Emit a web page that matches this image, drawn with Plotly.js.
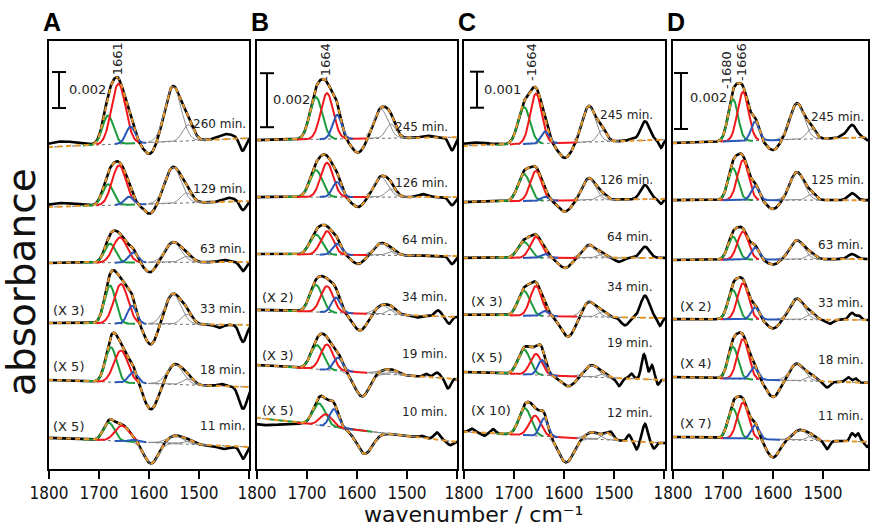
<!DOCTYPE html>
<html><head><meta charset="utf-8">
<script src="https://cdn.plot.ly/plotly-3.0.1.min.js"></script>
<style>html,body{margin:0;padding:0;background:#fff}#chart{width:871px;height:530px}</style>
</head><body><div id="chart"></div><script>
// ---------------- DATA (absorbance in units of 10^-3, as displayed) ----------------
const panelNames = ['A', 'B', 'C', 'D'];
const timeLabels = [
  ['260 min.', '129 min.', '63 min.', '33 min.', '18 min.', '11 min.'],
  ['245 min.', '126 min.', '64 min.', '34 min.', '19 min.', '10 min.'],
  ['245 min.', '126 min.', '64 min.', '34 min.', '19 min.', '12 min.'],
  ['245 min.', '125 min.', '63 min.', '33 min.', '18 min.', '11 min.']
];
const multLabels = [
  ['', '', '', '(X 3)', '(X 5)', '(X 5)'],
  ['', '', '', '(X 2)', '(X 3)', '(X 5)'],
  ['', '', '', '(X 3)', '(X 5)', '(X 10)'],
  ['', '', '', '(X 2)', '(X 4)', '(X 7)']
];
const scaleBarLabel = ['0.002', '0.002', '0.001', '0.002'];
const scaleBarSize = [2, 2, 1, 2];
const peakMarks = [[1661], [1664], [1664], [1680, 1666]];
// baseline level at 1800 and at 1400 cm-1
const base1800 = [
  [17.94, 14.61, 11.50, 8.17, 5.00, 1.78],
  [12.22, 10.11, 8.00, 5.93, 3.89, 1.93],
  [9.00, 7.44, 5.89, 4.31, 2.72, 1.06],
  [11.68, 9.64, 7.50, 5.39, 3.32, 1.18]
];
const base1400 = [
  [18.44, 14.94, 11.56, 8.06, 4.61, 1.28],
  [12.33, 10.11, 7.93, 5.67, 3.37, 1.04],
  [9.17, 7.53, 5.89, 4.22, 2.50, 0.75],
  [11.89, 9.64, 7.54, 5.36, 3.11, 1.00]
];
// band centres (cm-1) and heights
const greenCenter = [
  [1682, 1682, 1678, 1678, 1676, 1680],
  [1682, 1682, 1682, 1682, 1680, 1676],
  [1680, 1680, 1680, 1680, 1680, 1678],
  [1680, 1680, 1680, 1680, 1680, 1680]
];
const greenHeight = [
  [1.61, 1.17, 1.06, 2.11, 1.94, 1.00],
  [1.56, 1.00, 0.74, 1.00, 0.89, 0.81],
  [1.03, 0.75, 0.44, 0.69, 0.69, 0.75],
  [1.50, 1.14, 0.82, 1.04, 1.14, 1.07]
];
const redCenter = [
  [1661, 1660, 1658, 1656, 1656, 1654],
  [1660, 1660, 1660, 1660, 1660, 1662],
  [1656, 1656, 1656, 1656, 1656, 1658],
  [1660, 1660, 1660, 1660, 1660, 1660]
];
const redHeight = [
  [3.35, 2.20, 1.40, 2.20, 1.78, 0.87],
  [1.70, 1.27, 0.87, 0.97, 0.94, 0.44],
  [1.39, 0.83, 0.58, 0.83, 0.58, 0.56],
  [1.75, 1.43, 1.00, 1.29, 1.43, 1.29]
];
const blueCenter = [
  [1637, 1640, 1632, 1634, 1632, 1632],
  [1640, 1640, 1640, 1642, 1638, 1646],
  [1638, 1638, 1638, 1638, 1644, 1640],
  [1636, 1636, 1636, 1636, 1638, 1636]
];
const blueHeight = [
  [0.94, 0.44, 0.56, 1.00, 0.61, 0.11],
  [0.89, 0.56, 0.41, 0.56, 0.48, 0.67],
  [0.33, 0.11, 0.11, 0.14, 0.42, 0.50],
  [0.68, 0.50, 0.43, 0.43, 0.43, 0.50]
];
const dipCenter = [
  [1598, 1598, 1598, 1596, 1596, 1596],
  [1598, 1598, 1598, 1594, 1590, 1585],
  [1598, 1598, 1598, 1592, 1592, 1596],
  [1600, 1600, 1600, 1600, 1600, 1600]
];
const dipHeight = [
  [-0.67, -0.56, -0.56, -1.17, -1.44, -1.17],
  [-0.52, -0.37, -0.33, -0.63, -0.89, -0.85],
  [-0.42, -0.31, -0.28, -0.56, -0.28, -0.69],
  [-0.36, -0.32, -0.18, -0.32, -0.61, -0.64]
];
const dipWidth = [
  [12, 12, 12, 13, 14, 14],
  [13, 13, 13, 14, 15, 16],
  [13, 13, 13, 14, 14, 15],
  [12, 12, 12, 12, 13, 13]
];
const band1Center = [
  [1552, 1552, 1552, 1552, 1548, 1548],
  [1552, 1552, 1552, 1550, 1545, 1545],
  [1550, 1550, 1550, 1550, 1545, 1544],
  [1552, 1552, 1552, 1552, 1552, 1546]
];
const band1Height = [
  [3.06, 2.00, 1.11, 1.67, 1.11, 0.44],
  [1.07, 0.74, 0.44, 0.33, 0.15, 0.00],
  [1.00, 0.61, 0.36, 0.42, 0.33, 0.19],
  [1.29, 1.00, 0.68, 0.75, 0.61, 0.36]
];
const band2Center = [
  [1522, 1525, 1525, 1525, 1522, 1522],
  [1532, 1532, 1530, 1530, 1525, 1525],
  [1524, 1524, 1524, 1524, 1522, 1514],
  [1524, 1524, 1524, 1524, 1524, 1524]
];
const band2Height = [
  [0.89, 0.56, 0.33, 0.56, 0.33, 0.17],
  [0.52, 0.30, 0.15, 0.19, 0.11, 0.00],
  [0.31, 0.14, 0.11, 0.14, 0.11, 0.19],
  [0.36, 0.21, 0.18, 0.21, 0.18, 0.14]
];
// band widths per panel: green, red, blue, band1, band2 (sigma, cm-1)
const bandWidth = [
  [11, 14, 9, 16, 11],
  [12.5, 12.5, 9, 14, 10],
  [12, 11.5, 8, 13, 9],
  [10, 11, 8, 14, 9]
];
// whether the negative component is drawn (grey)
const dipShown = [
  [0, 0, 0, 0, 0, 1],
  [0, 0, 0, 0, 1, 1],
  [0, 0, 0, 0, 0, 1],
  [0, 0, 0, 0, 0, 0]
];
// residual structure of the measured spectrum outside the fitted bands: [centre, height, width]
const residual = [
  [[[1775, 0.28, 30], [1445, 0.28, 15], [1413, -0.72, 6]],
   [[1775, 0.20, 30], [1440, 0.22, 12], [1412, -0.50, 6]],
   [[1450, 0.11, 10], [1412, -0.50, 6]],
   [[1460, -0.17, 8], [1412, -0.94, 7]],
   [[1455, 0.11, 8], [1412, -1.22, 8]],
   [[1450, -0.17, 12], [1412, -0.67, 6]]],
  [[[1460, 0.07, 10], [1410, -0.48, 6]],
   [[1468, 0.11, 10], [1410, -0.30, 6]],
   [[1410, -0.30, 6]],
   [[1480, -0.07, 6], [1438, 0.22, 6], [1416, -0.26, 5]],
   [[1462, 0.11, 5], [1440, 0.19, 6], [1418, -0.37, 5]],
   [[1795, -0.24, 40], [1470, 0.07, 5], [1440, 0.26, 6], [1414, -0.15, 5]]],
  [[[1780, 0.08, 30], [1465, 0.06, 6], [1438, 0.53, 9], [1406, -0.22, 4]],
   [[1438, 0.39, 9], [1406, -0.14, 4]],
   [[1490, -0.11, 8], [1438, 0.31, 9]],
   [[1478, -0.22, 8], [1438, 0.61, 9], [1408, -0.22, 4]],
   [[1490, -0.22, 5], [1465, 0.14, 4], [1440, 0.69, 5], [1424, 0.39, 4], [1412, -0.14, 3]],
   [[1785, 0.10, 5], [1760, -0.08, 5], [1742, 0.12, 5], [1505, 0.10, 4], [1470, 0.17, 4], [1455, -0.22, 4], [1438, 0.50, 5], [1420, -0.17, 4]]],
  [[[1462, 0.07, 6], [1442, 0.46, 9], [1412, -0.11, 4]],
   [[1442, 0.25, 8]],
   [[1442, 0.18, 8]],
   [[1486, -0.14, 6], [1442, 0.25, 6], [1428, 0.14, 4]],
   [[1492, -0.21, 6], [1450, 0.18, 5], [1435, 0.14, 4]],
   [[1492, -0.29, 5], [1442, 0.29, 4], [1430, 0.29, 4], [1412, -0.18, 4]]]
];
const tickVals = [1800, 1700, 1600, 1500];
const tickText = ['1800', '1700', '1600', '1500'];
const minorTickVals = [1400];

// ---------------- LAYOUT / STYLE ----------------
const W = 871, H = 530;
const boxPx = [[48, 250], [256, 458], [463, 666], [672, 869]];
const xRanges = [[1802, 1398], [1802, 1398], [1802, 1396], [1802, 1408]];
const yTop = [23.89, 15.93, 11.94, 15.36];
const boxTop = 40, boxBot = 470;
const drawRanges = [ // [hi, lo] for green, red, blue, grey
  [[1732, 1628], [1705, 1620], [1668, 1606], [1602, 1474]],
  [[1740, 1640], [1720, 1580], [1675, 1608], [1582, 1484]],
  [[1735, 1642], [1708, 1574], [1682, 1612], [1580, 1490]],
  [[1708, 1640], [1705, 1628], [1700, 1586], [1594, 1505]]
];
const timePos = [[248, [124, 189, 249, 309, 370, 426]], [450, [127, 183, 240, 297, 354, 412]],
                 [655, [115, 180, 237, 287, 343, 413]], [866, [117, 180, 245, 303, 360, 416]]];
const multPos = [[51, [0, 0, 0, 310, 366, 426]], [260, [0, 0, 0, 297, 355, 410]],
                 [469, [0, 0, 0, 301, 357, 410]], [678, [0, 0, 0, 306, 363, 423]]];
const barPos = [[1780, 20.11, 67, 90], [1780, 12.70, 271, 100], [1774, 10.06, 482, 90], [1784, 12.18, 688, 98]];
const markPos = [[[118, 61]], [[326, 62]], [[532, 62]], [[727, 70], [742, 62]]];

const COL = {g: '#1c9b3c', r: '#f2171b', b: '#2a58b8', grey: '#8c8c8c', orange: '#e8982a'};
const TXT = 'DejaVu Sans, Verdana, sans-serif';

function gauss(w, c, h, s) { return h * Math.exp(-(w - c) * (w - c) / (2 * s * s)); }

const traces = [], shapes = [], annotations = [];
const layout = {
  width: W, height: H, margin: {l: 0, r: 0, t: 0, b: 0},
  paper_bgcolor: '#fff', plot_bgcolor: 'rgba(0,0,0,0)', showlegend: false
};

for (let p = 0; p < 4; p++) {
  const xa = p === 0 ? 'x' : 'x' + (p + 1), ya = p === 0 ? 'y' : 'y' + (p + 1);
  const xKey = p === 0 ? 'xaxis' : 'xaxis' + (p + 1), yKey = p === 0 ? 'yaxis' : 'yaxis' + (p + 1);
  layout[xKey] = {
    domain: [boxPx[p][0] / W, boxPx[p][1] / W], range: xRanges[p], anchor: ya,
    showgrid: false, zeroline: false, showline: false,
    tickmode: 'array', tickvals: tickVals, ticktext: tickText, ticks: 'outside', ticklen: 8, tickwidth: 1.5, tickcolor: '#000',
    minor: {tickmode: 'array', tickvals: minorTickVals, ticks: 'outside', ticklen: 8, tickwidth: 1.5, tickcolor: '#000', showgrid: false},
    tickfont: {family: 'Liberation Sans Narrow, DejaVu Sans Condensed, Arial Narrow, sans-serif', size: 17, color: '#111'},
    fixedrange: true
  };
  layout[yKey] = {
    domain: [1 - boxBot / H, 1 - boxTop / H], range: [0, yTop[p]], anchor: xa,
    visible: false, fixedrange: true
  };
  shapes.push({type: 'rect', xref: 'paper', yref: 'paper', x0: boxPx[p][0] / W, x1: boxPx[p][1] / W,
    y0: 1 - boxBot / H, y1: 1 - boxTop / H, line: {color: '#000', width: 2}});

  const sig = bandWidth[p];
  for (let i = 0; i < 6; i++) {
    const b0 = base1800[p][i], b1 = base1400[p][i];
    const base = w => b0 + (b1 - b0) * (1800 - w) / 400;
    const bands = [
      [greenCenter[p][i], greenHeight[p][i], sig[0]],
      [redCenter[p][i], redHeight[p][i], sig[1]],
      [blueCenter[p][i], blueHeight[p][i], sig[2]],
      [dipCenter[p][i], dipHeight[p][i], dipWidth[p][i]],
      [band1Center[p][i], band1Height[p][i], sig[3]],
      [band2Center[p][i], band2Height[p][i], sig[4]]
    ];
    const xs = [], fit = [], meas = [], bl = [];
    for (let w = xRanges[p][0]; w >= xRanges[p][1]; w -= 1) {
      let f = base(w);
      bands.forEach(b => { f += gauss(w, b[0], b[1], b[2]); });
      let m = f;
      residual[p][i].forEach(r => { m += gauss(w, r[0], r[1], r[2]); });
      xs.push(w); fit.push(f); meas.push(m); bl.push(base(w));
    }
    const comp = (k, hi, lo) => {
      const cx = [], cy = [];
      for (let w = hi; w >= lo; w -= 1) { cx.push(w); cy.push(base(w) + gauss(w, bands[k][0], bands[k][1], bands[k][2])); }
      return [cx, cy];
    };
    const line = (x, y, color, width, dash) => ({type: 'scatter', mode: 'lines', x: x, y: y, xaxis: xa, yaxis: ya,
      line: {color: color, width: width, dash: dash || 'solid'}, hoverinfo: 'skip'});
    traces.push(line(xs, bl, '#6e6e6e', 1, 'dot'));
    traces.push(line(xs, meas, '#000', 2.6));
    const dr = drawRanges[p];
    const gr = dr[3];
    let c;
    c = comp(4, gr[0], gr[1]); traces.push(line(c[0], c[1], COL.grey, 1));
    c = comp(5, gr[0], gr[1]); traces.push(line(c[0], c[1], COL.grey, 1));
    if (dipShown[p][i]) { c = comp(3, 1630, 1536); traces.push(line(c[0], c[1], COL.grey, 1)); }
    const gRange = (p === 1 && i === 5) ? [1780, 1570] : dr[0];
    c = comp(0, gRange[0], gRange[1]); traces.push(line(c[0], c[1], COL.g, 2));
    c = comp(1, dr[1][0], dr[1][1]); traces.push(line(c[0], c[1], COL.r, 2));
    c = comp(2, dr[2][0], dr[2][1]); traces.push(line(c[0], c[1], COL.b, 2));
    traces.push(line(xs, fit, COL.orange, 2, '5px,4px'));

    annotations.push({xref: 'paper', yref: 'paper', x: timePos[p][0] / W, y: 1 - timePos[p][1][i] / H,
      xanchor: 'right', yanchor: 'middle', text: timeLabels[p][i], showarrow: false,
      font: {family: TXT, size: 12, color: '#222'}});
    if (multLabels[p][i]) {
      annotations.push({xref: 'paper', yref: 'paper', x: multPos[p][0] / W, y: 1 - multPos[p][1][i] / H,
        xanchor: 'left', yanchor: 'middle', text: multLabels[p][i], showarrow: false,
        font: {family: TXT, size: 13, color: '#222'}});
    }
  }
  // scale bar
  const bp = barPos[p];
  shapes.push({type: 'line', xref: xa, yref: ya, x0: bp[0], x1: bp[0], y0: bp[1], y1: bp[1] + scaleBarSize[p], line: {color: '#000', width: 2}});
  shapes.push({type: 'line', xref: xa, yref: ya, x0: bp[0] + 14, x1: bp[0] - 14, y0: bp[1], y1: bp[1], line: {color: '#000', width: 2}});
  shapes.push({type: 'line', xref: xa, yref: ya, x0: bp[0] + 14, x1: bp[0] - 14, y0: bp[1] + scaleBarSize[p], y1: bp[1] + scaleBarSize[p], line: {color: '#000', width: 2}});
  annotations.push({xref: 'paper', yref: 'paper', x: bp[2] / W, y: 1 - bp[3] / H, xanchor: 'left', yanchor: 'middle',
    text: scaleBarLabel[p], showarrow: false, font: {family: TXT, size: 13, color: '#222'}});
  // peak position marks
  peakMarks[p].forEach((pk, k) => {
    const mp = markPos[p][k];
    annotations.push({xref: 'paper', yref: 'paper', x: mp[0] / W, y: 1 - mp[1] / H, xanchor: 'center', yanchor: 'middle',
      text: '-' + pk, textangle: -90, showarrow: false, font: {family: TXT, size: 13, color: '#222'}});
  });
  // panel letter
  annotations.push({xref: 'paper', yref: 'paper', x: (boxPx[p][0] - 7) / W, y: 1 - 22 / H, xanchor: 'left', yanchor: 'middle',
    text: '<b>' + panelNames[p] + '</b>', showarrow: false, font: {family: 'Liberation Sans, Arial, sans-serif', size: 25, color: '#000'}});
}
annotations.push({xref: 'paper', yref: 'paper', x: 473 / W, y: 1 - 514 / H, xanchor: 'center', yanchor: 'middle',
  text: 'wavenumber / cm⁻¹', showarrow: false, font: {family: TXT, size: 22, color: '#111'}});
annotations.push({xref: 'paper', yref: 'paper', x: 21 / W, y: 1 - 282 / H, xanchor: 'center', yanchor: 'middle',
  text: 'absorbance', textangle: -90, showarrow: false, font: {family: TXT, size: 39, color: '#111'}});
layout.shapes = shapes;
layout.annotations = annotations;
Plotly.newPlot('chart', traces, layout, {staticPlot: true, displayModeBar: false});
</script></body></html>
